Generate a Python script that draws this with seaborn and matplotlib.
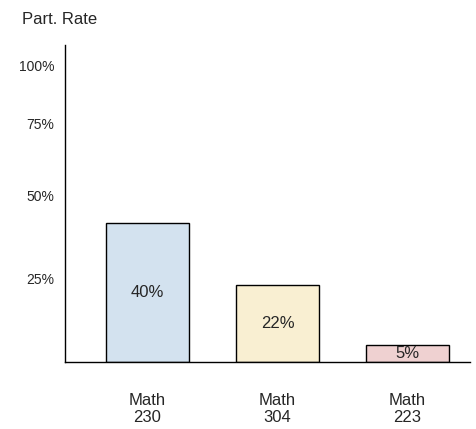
import matplotlib
matplotlib.use("Agg")
import matplotlib.pyplot as plt
import seaborn as sns
import pandas as pd

courses = ["Math\n230", "Math\n304", "Math\n223"]
rates = [40, 22, 5]
bar_colors = ["#cfe2f3", "#fff2cc", "#f4cccc"]
# tick labels as drawn (hand-placed positions in the sketch)
tick_vals = [24, 47.8, 68.6, 85]
tick_labels = ["25%", "50%", "75%", "100%"]

sns.set_style("white")
plt.rcParams["font.family"] = ["Liberation Sans", "DejaVu Sans"]

df = pd.DataFrame({"course": courses, "rate": rates})

fig = plt.figure(figsize=(4.76, 4.29), dpi=100)
ax = fig.add_axes([65 / 476, 67 / 429, 405 / 476, 317 / 429])
sns.barplot(data=df, x="course", y="rate", hue="course", palette=bar_colors,
            width=0.64, edgecolor="black", linewidth=1, legend=False, ax=ax)

for i, v in enumerate(rates):
    ax.text(i, v / 2, f"{v}%", ha="center", va="center", fontsize=12)

ax.set_xlim(-0.635, 2.48)
ax.set_ylim(0, 91)
ax.set_yticks(tick_vals)
ax.set_yticklabels(tick_labels, fontsize=10)
ax.tick_params(axis="y", length=4, color="black", direction="out")
ax.tick_params(axis="x", length=0, pad=22, labelsize=12)
ax.set_xlabel("")
ax.set_ylabel("")
for s in ["top", "right"]:
    ax.spines[s].set_visible(False)
for s in ["left", "bottom"]:
    ax.spines[s].set_color("black")
    ax.spines[s].set_linewidth(1)

fig.text(22 / 476, 1 - 20 / 429, "Part. Rate", fontsize=12, va="center")
fig.savefig("out.png", dpi=100)
